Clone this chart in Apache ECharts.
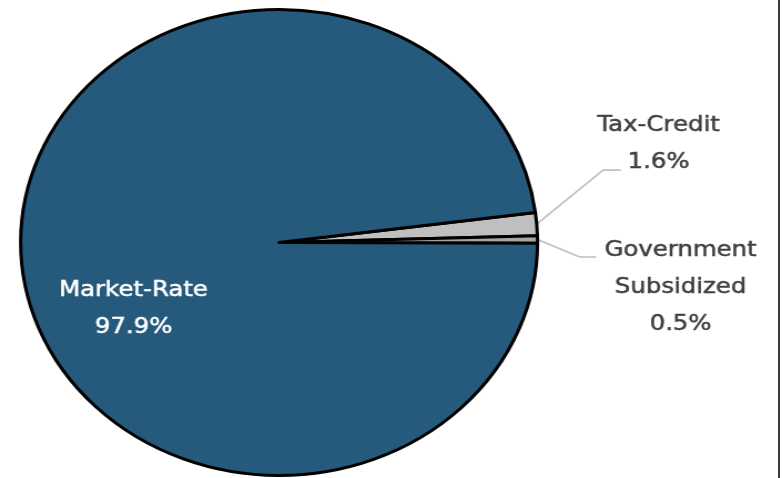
<!DOCTYPE html>
<html><head><meta charset="utf-8">
<script src="https://cdn.jsdelivr.net/npm/echarts@6/dist/echarts.min.js"></script>
<style>
html,body{margin:0;padding:0;background:#fff;overflow:hidden}
#wrap{position:absolute;left:0;top:0;width:782px;height:478px;overflow:hidden;background:#fff}
#chart{position:absolute;left:0;top:0;width:705px;height:478px;transform-origin:0 0;transform:scaleX(1.1092)}
#edge{position:absolute;left:778px;top:0;width:2px;height:478px;background:#3b3b3b}
</style></head><body>
<div id="wrap"><div id="chart"></div><div id="edge"></div></div>
<script>
// Data (clockwise from the start angle)
const categories = ['Tax-Credit', 'Government Subsidized', 'Market-Rate'];
const labelNames = ['Tax-Credit', 'Government\nSubsidized', 'Market-Rate'];
const shares = [1.6, 0.5, 97.9];

// Styling
const sliceColors = ['#bfbfbf', '#a6a6a6', '#265a7c'];
const labelColors = ['#404040', '#404040', '#ffffff'];
const LABEL_TUNE = [
  { lineDy: -54, dx: 34, dy: -26, length: 60, length2: 16 },
  { lineDy: 17.5, dx: 76, dy: 30, length: 38, length2: 15 },
  { dx: -12, dy: 59 }
];

const chart = echarts.init(document.getElementById('chart'), null, { renderer: 'canvas' });
const data = categories.map((c, i) => {
  const item = {
    name: c,
    value: shares[i],
    itemStyle: { color: sliceColors[i] },
    label: {
      color: labelColors[i],
      textBorderColor: labelColors[i],
      textBorderWidth: 0.5,
      formatter: labelNames[i] + '\n' + shares[i].toFixed(1) + '%'
    }
  };
  if (i === 2) {
    item.label.position = 'inside';
    item.labelLine = { show: false };
  } else {
    item.labelLine = { show: true, length: LABEL_TUNE[i].length, length2: LABEL_TUNE[i].length2 };
  }
  return item;
});

chart.setOption({
  animation: false,
  backgroundColor: '#ffffff',
  series: [{
    type: 'pie',
    center: [251.6, 242.5],
    radius: 233,
    startAngle: 7.4,
    clockwise: true,
    avoidLabelOverlap: false,
    itemStyle: { borderColor: '#000000', borderWidth: 3 },
    label: {
      show: true,
      position: 'outside',
      fontFamily: 'DejaVu Sans',
      fontSize: 22,
      lineHeight: 37,
      align: 'center'
    },
    labelLine: {
      lineStyle: { color: '#bfbfbf', width: 1.6 },
      minTurnAngle: 0,
      maxSurfaceAngle: 180
    },
    emphasis: { disabled: true },
    labelLayout: function (p) {
      const t = LABEL_TUNE[p.dataIndex];
      const pts = p.labelLinePoints;
      if (p.dataIndex !== 2 && pts && pts.length === 3) {
        const ly = pts[0][1] + t.lineDy;
        return {
          x: pts[2][0] + t.dx,
          y: ly + t.dy,
          align: 'center',
          verticalAlign: 'middle',
          labelLinePoints: [pts[0], [pts[1][0], ly], [pts[2][0], ly]]
        };
      }
      const r = p.labelRect;
      return {
        x: r.x + r.width / 2 + t.dx,
        y: r.y + r.height / 2 + t.dy,
        align: 'center',
        verticalAlign: 'middle'
      };
    },
    data: data
  }]
});
</script>
</body></html>
